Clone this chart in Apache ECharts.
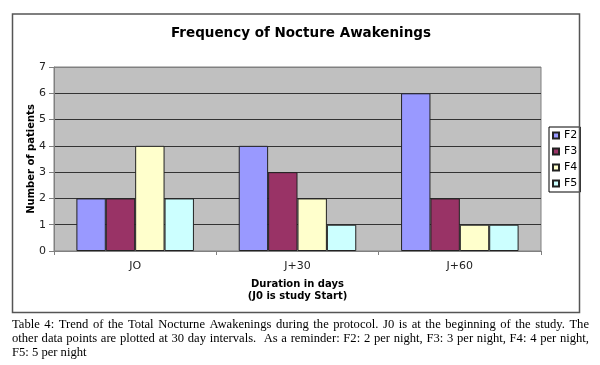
<!DOCTYPE html>
<html>
<head>
<meta charset="utf-8">
<script src="https://cdn.jsdelivr.net/npm/echarts@6/dist/echarts.min.js"></script>
<style>
html,body{margin:0;padding:0;background:#fff;}
#chart{width:600px;height:365px;}
</style>
</head>
<body>
<div id="chart"></div>
<script>
var categories = ['JO', 'J+30', 'J+60'];
var seriesNames = ['F2', 'F3', 'F4', 'F5'];
var F2 = [2, 4, 6];
var F3 = [2, 3, 2];
var F4 = [4, 2, 1];
var F5 = [2, 1, 1];
var yTicks = [0, 1, 2, 3, 4, 5, 6, 7];
var chartTitle = 'Frequency of Nocture Awakenings';
var yName = 'Number of patients';
var xName = 'Duration in days\n(J0 is study Start)';
var captionLines = [
  'Table 4: Trend of the Total Nocturne Awakenings during the protocol. J0 is at the beginning of the study. The',
  'other data points are plotted at 30 day intervals.  As a reminder: F2: 2 per night, F3: 3 per night, F4: 4 per night,',
  'F5: 5 per night'
];
var colors = ['#9999ff', '#993366', '#ffffcc', '#ccffff'];

var chart = echarts.init(document.getElementById('chart'), null, {renderer: 'canvas'});
var values = [F2, F3, F4, F5];
var font = 'DejaVu Sans, Verdana, sans-serif';
var serifFont = '12.6px "Liberation Serif", "Times New Roman", serif';

var series = seriesNames.map(function (n, i) {
  return {
    name: n,
    type: 'bar',
    data: values[i],
    barGap: '0%',
    barCategoryGap: '27.6%',
    itemStyle: {color: colors[i], borderColor: '#222', borderWidth: 1},
    emphasis: {disabled: true}
  };
});

// justified caption: lay words out across the caption width
var measureCtx = document.createElement('canvas').getContext('2d');
measureCtx.font = serifFont;
var capLeft = 12, capRight = 589;
var captionGraphics = [];
captionLines.forEach(function (line, li) {
  var y = 318.5 + li * 13.7;
  var isLast = li === captionLines.length - 1;
  if (isLast) {
    captionGraphics.push({type: 'text', x: capLeft, y: y,
      style: {text: line, font: serifFont, fill: '#000'}});
    return;
  }
  var words = line.split(' ');
  var total = 0;
  words.forEach(function (w) { total += measureCtx.measureText(w).width; });
  var gaps = words.length - 1;
  var extra = (capRight - capLeft - total) / gaps;
  var x = capLeft;
  words.forEach(function (w) {
    if (w.length) {
      captionGraphics.push({type: 'text', x: x, y: y,
        style: {text: w, font: serifFont, fill: '#000'}});
    }
    x += measureCtx.measureText(w).width + extra;
  });
});

chart.setOption({
  animation: false,
  color: colors,
  title: {
    text: chartTitle,
    left: 296,
    top: 21,
    textAlign: 'center',
    textStyle: {fontFamily: font, fontSize: 13.5, fontWeight: 'bold', color: '#000'}
  },
  grid: {
    left: 54, right: 59, top: 67, bottom: 114,
    show: true, backgroundColor: '#c0c0c0', borderColor: '#808080', borderWidth: 1,
    containLabel: false
  },
  legend: {
    orient: 'vertical',
    left: 549, top: 127,
    padding: [3, 3, 3, 3],
    itemGap: 5,
    itemWidth: 6, itemHeight: 6,
    itemTextGap: 3,
    icon: 'rect',
    borderColor: '#000', borderWidth: 1,
    data: seriesNames,
    textStyle: {fontFamily: font, fontSize: 11, color: '#000', lineHeight: 11}
  },
  xAxis: {
    type: 'category',
    data: categories,
    axisLine: {lineStyle: {color: '#808080', width: 1}},
    axisTick: {show: true, length: 4, lineStyle: {color: '#808080'}},
    axisLabel: {fontFamily: font, fontSize: 11, color: '#222', margin: 10},
    name: xName,
    nameLocation: 'middle',
    nameGap: 27,
    nameMoveOverlap: false,
    nameTextStyle: {fontFamily: font, fontSize: 10, fontWeight: 'bold', color: '#000', lineHeight: 12}
  },
  yAxis: {
    type: 'value',
    min: 0, max: 7, interval: 1,
    axisLine: {show: true, lineStyle: {color: '#808080', width: 1}},
    axisTick: {show: true, length: 5, lineStyle: {color: '#808080'}},
    axisLabel: {fontFamily: font, fontSize: 11, color: '#222', margin: 8,
      formatter: function (v) { return yTicks.indexOf(v) >= 0 ? String(v) : ''; }},
    splitLine: {show: true, lineStyle: {color: ['#808080', '#333', '#333', '#333', '#333', '#333', '#333', '#808080'], width: 1}},
    name: yName,
    nameLocation: 'middle',
    nameRotate: 90,
    nameGap: 18,
    nameMoveOverlap: false,
    nameTextStyle: {fontFamily: font, fontSize: 10, fontWeight: 'bold', color: '#000'}
  },
  series: series,
  graphic: [{
    type: 'rect',
    shape: {x: 12.5, y: 14, width: 567, height: 298.5},
    style: {fill: 'none', stroke: '#555', lineWidth: 1.5},
    silent: true, z: 100
  }].concat(captionGraphics)
});
</script>
</body>
</html>
